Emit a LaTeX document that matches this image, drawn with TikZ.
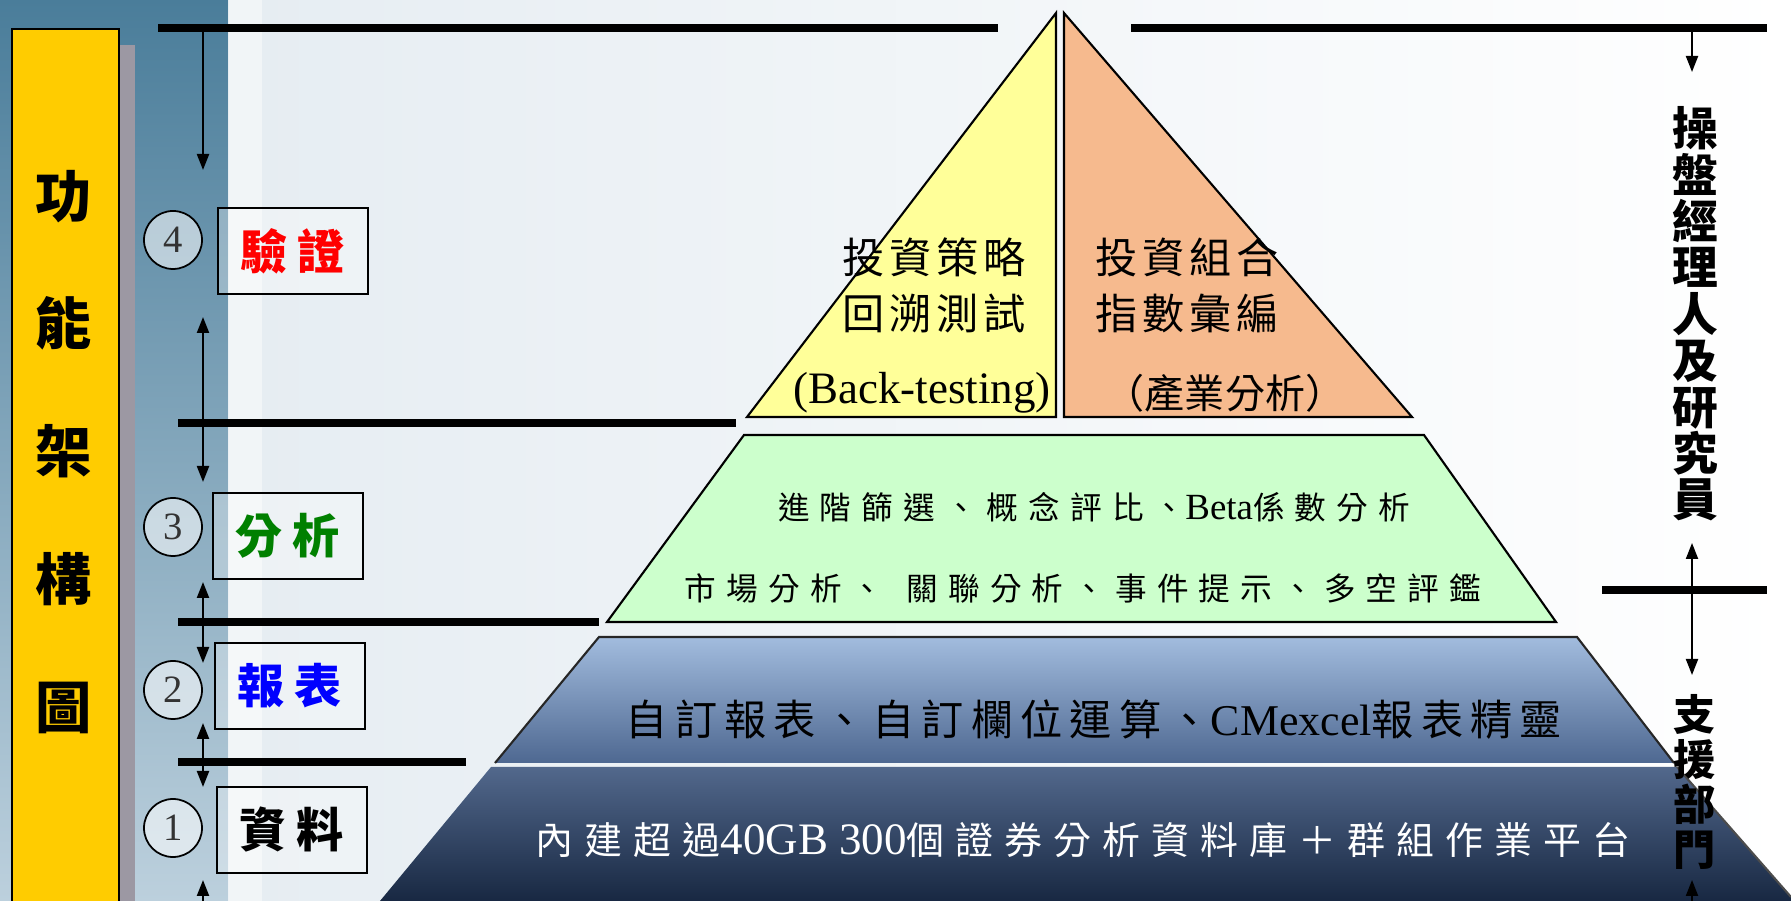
\documentclass[tikz,border=0pt]{standalone}
\usepackage{fontspec}
\setmainfont{Liberation Serif}
\newfontfamily\cjk{Noto Sans CJK TC}
\usetikzlibrary{arrows.meta,positioning}

\definecolor{panelblue}{RGB}{74,125,154}
\definecolor{panelpale}{RGB}{188,208,221}
\definecolor{paper}{RGB}{226,234,240}
\definecolor{colgold}{RGB}{255,204,0}
\definecolor{stripgray}{RGB}{156,152,163}
\definecolor{apexyellow}{RGB}{255,255,153}
\definecolor{apexpeach}{RGB}{246,186,142}
\definecolor{midgreen}{RGB}{204,255,204}
\definecolor{reptop}{RGB}{162,188,222}
\definecolor{repbot}{RGB}{78,104,145}
\definecolor{basetop}{RGB}{82,104,140}
\definecolor{basebot}{RGB}{24,40,66}
\definecolor{tagred}{RGB}{255,0,0}
\definecolor{taggreen}{RGB}{0,128,0}
\definecolor{tagblue}{RGB}{0,0,255}

\newcommand\track[1]{\addfontfeature{LetterSpace=#1}}
\newcommand\lat[2]{{\rmfamily\fontsize{#1}{#1}\selectfont #2}}

\tikzset{
  rule/.style={line width=2pt},
  feed/.style={-{Triangle[length=1.6mm,width=1.2mm]},line width=0.6pt},
  numring/.style={circle,draw,line width=0.5pt,fill=white,fill opacity=0.55,text opacity=1,
    minimum size=5.8mm,inner sep=0pt,text=black!80,font=\fontsize{11}{11}\selectfont},
  tagbox/.style={draw,line width=0.6pt,fill=white,fill opacity=0.3,text opacity=1,
    minimum width=15mm,minimum height=8.6mm,inner sep=0pt,
    font=\cjk\bfseries\fontsize{13.4}{13.4}\selectfont\track{21}},
  layer/.style={draw,line width=0.6pt},
  says/.style={inner sep=0pt}
}

\begin{document}
\begin{tikzpicture}[x=0.1mm,y=-0.1mm]
\useasboundingbox (0,0) rectangle (1791,901);

\shade[left color=paper,right color=white] (0,0) rectangle (1791,901);
\shade[top color=panelblue,bottom color=panelpale] (0,0) rectangle (228,901);
\fill[white,opacity=0.45] (228,0) rectangle (262,901);
\fill[stripgray] (119,45) rectangle (135,901);
\filldraw[fill=colgold,line width=0.6pt] (12,29) rectangle (119,906);

\node[says,align=center,font=\cjk\bfseries\fontsize{16}{36.4}\selectfont] (frame) at (64,452)
  {功\\能\\架\\構\\圖};

\filldraw[layer,fill=apexyellow] (1056,13) -- (747,417) -- (1056,417) -- cycle;
\filldraw[layer,fill=apexpeach] (1064,13) -- (1064,417) -- (1412,417) -- cycle;
\filldraw[layer,fill=midgreen] (744,435) -- (1424,435) -- (1556,622) -- (607,622) -- cycle;
\shade[top color=reptop,bottom color=repbot] (599,637) -- (1577,637) -- (1674,763) -- (495,763) -- cycle;
\draw[line width=0.6pt,black!85] (495,763) -- (599,637) -- (1577,637) -- (1674,763);
\shade[top color=basetop,bottom color=basebot] (491,767) -- (1677,767) -- (1791,897) -- (1791,901) -- (380,901) -- cycle;
\draw[line width=0.6pt,black!70] (1677,767) -- (1791,897);

\node[says,font=\cjk\fontsize{12}{12}\selectfont\track{12}] (strat) at (934,257) {投資策略};
\node[says,font=\cjk\fontsize{12}{12}\selectfont\track{12}] (backtest) at (934,313) {回溯測試};
\node[says,font=\fontsize{12.8}{12.8}\selectfont] (btname) at (922,393) {(Back-testing)};
\node[says,font=\cjk\fontsize{12}{12}\selectfont\track{12}] (portfolio) at (1187,257) {投資組合};
\node[says,font=\cjk\fontsize{12}{12}\selectfont\track{12}] (index) at (1187,313) {指數彙編};
\node[says,font=\cjk\fontsize{11.4}{11.4}\selectfont] (industry) at (1225,393) {（產業分析）};

\node[says,font=\cjk\fontsize{9}{9}\selectfont\track{32}] (screen) at (1094,507)
  {進階篩選、概念評比、\lat{10.5}{Beta}係數分析};
\node[says,font=\cjk\fontsize{9}{9}\selectfont\track{32}] (market) at (1083,588)
  {市場分析、\hspace{2.3mm}關聯分析、事件提示、多空評鑑};
\node[says,font=\cjk\fontsize{12}{12}\selectfont\track{17}] (custom) at (1094,720)
  {自訂報表、自訂欄位運算、\lat{12.5}{CMexcel}報表精靈};
\node[says,text=white,font=\cjk\fontsize{10.8}{10.8}\selectfont\track{29}] (database) at (1083,840)
  {內建超過\lat{12.8}{40GB 300}個證券分析資料庫＋群組作業平台};

\foreach \x/\y/\z [count=\i] in {158/998/28,1131/1767/28,178/736/423,178/599/622,178/466/762,1602/1767/590}{
  \coordinate (ba\i) at (\x,\z);
  \coordinate (bb\i) at (\y,\z);
  \draw[rule] (ba\i) -- (bb\i);
}

\foreach \a/\b [count=\i] in {29/170,423/317,423/482,622/582,622/663,762/723,762/787,901/880}{
  \coordinate (fa\i) at (203,\a);
  \coordinate (fb\i) at (203,\b);
  \draw[feed] (fa\i) -- (fb\i);
}
\foreach \a/\b [count=\i] in {28/72,590/543,590/675,901/880}{
  \coordinate (ra\i) at (1692,\a);
  \coordinate (rb\i) at (1692,\b);
  \draw[feed] (ra\i) -- (rb\i);
}

\node[tagbox,text=tagred] (verify) at (293,251) {驗證};
\node[tagbox,text=taggreen] (analyze) at (288,536) {分析};
\node[tagbox,text=tagblue] (report) at (290,686) {報表};
\node[tagbox] (data) at (292,830) {資料};
\node[numring] (n4) at (173,240) {4};
\node[numring] (n3) at (173,527) {3};
\node[numring] (n2) at (173,690) {2};
\node[numring] (n1) at (173,828) {1};

\node[says,align=center,font=\cjk\bfseries\fontsize{13}{13.2}\selectfont] (staff) at (1695,314)
  {操\\盤\\經\\理\\人\\及\\研\\究\\員};
\node[says,align=center,font=\cjk\bfseries\fontsize{12}{12.8}\selectfont] (support) at (1695,782)
  {支\\援\\部\\門};
\end{tikzpicture}
\end{document}
